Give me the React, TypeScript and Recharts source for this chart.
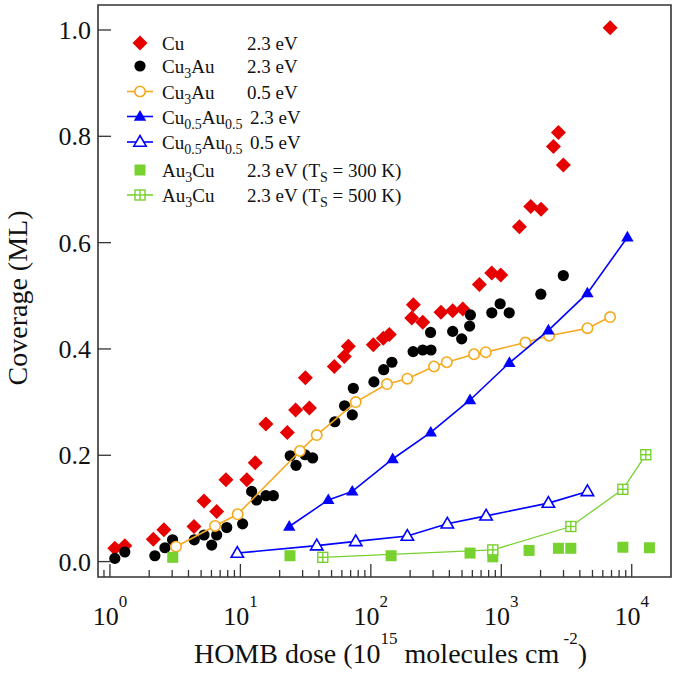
import { ScatterChart, Scatter, XAxis, YAxis, ReferenceArea } from "recharts";

const serif = "'Liberation Serif', 'Times New Roman', serif";
const frameColor = "#333";
const red = "#e60000";
const orange = "#f5a91c";
const blue = "#0000ff";
const green = "#77d12f";

// [dose (10^15 molecules cm^-2), coverage (ML)]
const cu23 = [
  [1.09, 0.025], [1.3, 0.03], [2.15, 0.042], [2.59, 0.06], [4.41, 0.066], [5.26, 0.114],
  [6.58, 0.094], [7.75, 0.154], [11.2, 0.154], [13.0, 0.186], [15.7, 0.259], [22.9, 0.243],
  [26.5, 0.285], [31.5, 0.346], [33.8, 0.289], [52.5, 0.367], [62.6, 0.386], [67.2, 0.405],
  [104.5, 0.408], [124.6, 0.42], [138.6, 0.427], [206, 0.458], [212, 0.483], [250, 0.45],
  [345, 0.469], [424, 0.472], [507, 0.475], [679, 0.521], [845, 0.543], [991, 0.539],
  [1377, 0.63], [1683, 0.668], [2019, 0.663], [2510, 0.781], [2742, 0.807], [2993, 0.746],
  [6826, 1.004],
];

const cu3au23 = [
  [1.09, 0.006], [1.3, 0.018], [2.21, 0.011], [2.64, 0.026], [3.02, 0.041], [4.43, 0.041],
  [5.26, 0.05], [6.03, 0.031], [6.58, 0.05], [7.86, 0.064], [10.4, 0.071], [12.2, 0.132],
  [13.3, 0.116], [15.7, 0.124], [17.9, 0.124], [24.1, 0.199], [26.7, 0.181], [31.3, 0.201],
  [35.8, 0.195], [53.0, 0.263], [62.9, 0.293], [72.1, 0.276], [73.4, 0.326], [105.6, 0.338],
  [125.5, 0.361], [145, 0.375], [211, 0.395], [250, 0.398], [289, 0.398], [287, 0.431],
  [424, 0.433], [497, 0.419], [572, 0.443], [580, 0.464], [846, 0.468], [980, 0.485],
  [1150, 0.468], [2010, 0.503], [2990, 0.538],
];

const cu3au05 = [
  [3.21, 0.028], [6.39, 0.067], [9.53, 0.089], [28.6, 0.208], [38.5, 0.238], [76.6, 0.3],
  [133, 0.334], [190.5, 0.344], [305, 0.367], [382, 0.375], [618, 0.39], [760, 0.394],
  [1532, 0.412], [2328, 0.425], [4575, 0.439], [6826, 0.46],
];

const cuau23 = [
  [23.7, 0.066], [47.2, 0.116], [72.1, 0.132], [147, 0.193], [288, 0.243], [576, 0.304],
  [1154, 0.374], [2297, 0.435], [4575, 0.505], [9265, 0.61],
];

const cuau05 = [
  [9.47, 0.016], [38.5, 0.03], [76.6, 0.038], [190.5, 0.048], [386, 0.071], [765, 0.086],
  [2297, 0.11], [4575, 0.132],
];

const au3cu300 = [
  [3.03, 0.008], [24.0, 0.011], [143, 0.011], [576, 0.016], [861, 0.009], [1633, 0.021],
  [2742, 0.025], [3413, 0.025], [8550, 0.027], [13670, 0.026],
];

const au3cu500 = [
  [42.8, 0.008], [861, 0.022], [3413, 0.066], [8550, 0.136], [12820, 0.201],
];

const xMajorTicks = [1, 10, 100, 1000, 10000];
const xMinorSteps = [2, 3, 4, 5, 6, 7, 8, 9];
const yTicks = [0, 0.2, 0.4, 0.6, 0.8, 1.0];

// legend rows: name parts and energy parts, odd entries are subscripts
const legendNames = [
  ["Cu"],
  ["Cu", "3", "Au"],
  ["Cu", "3", "Au"],
  ["Cu", "0.5", "Au", "0.5"],
  ["Cu", "0.5", "Au", "0.5"],
  ["Au", "3", "Cu"],
  ["Au", "3", "Cu"],
];
const legendEnergies = [
  ["2.3 eV"],
  ["2.3 eV"],
  ["0.5 eV"],
  ["2.3 eV"],
  ["0.5 eV"],
  ["2.3 eV (T", "S", " = 300 K)"],
  ["2.3 eV (T", "S", " = 500 K)"],
];

const toPoints = (arr: number[][]) => arr.map(([dose, cov]) => ({ dose, cov }));

const xTicks = [0.9];
xMajorTicks.forEach((m) => {
  xTicks.push(m);
  if (m < 10000) xMinorSteps.forEach((s) => xTicks.push(m * s));
});

const Diamond = ({ cx, cy }: any) => (
  <polygon
    points={`${cx},${cy - 7.5} ${cx + 7.5},${cy} ${cx},${cy + 7.5} ${cx - 7.5},${cy}`}
    fill={red}
  />
);
const Dot = ({ cx, cy }: any) => <circle cx={cx} cy={cy} r={5.6} fill="#000" />;
const OpenCircle = ({ cx, cy }: any) => (
  <circle cx={cx} cy={cy} r={5.2} fill="#fff" stroke={orange} strokeWidth={1.6} />
);
const triPoints = (cx: number, cy: number) =>
  `${cx},${cy - 6.5} ${cx + 6.2},${cy + 4.2} ${cx - 6.2},${cy + 4.2}`;
const Tri = ({ cx, cy }: any) => <polygon points={triPoints(cx, cy)} fill={blue} />;
const OpenTri = ({ cx, cy }: any) => (
  <polygon points={triPoints(cx, cy)} fill="#fff" stroke={blue} strokeWidth={1.6} />
);
const Square = ({ cx, cy }: any) => (
  <rect x={cx - 5.5} y={cy - 5.5} width={11} height={11} fill={green} />
);
const CrossSquare = ({ cx, cy }: any) => (
  <g stroke={green} strokeWidth={1.4} fill="#fff">
    <rect x={cx - 5} y={cy - 5} width={10} height={10} />
    <line x1={cx} x2={cx} y1={cy - 5} y2={cy + 5} />
    <line x1={cx - 5} x2={cx + 5} y1={cy} y2={cy} />
  </g>
);

const XTick = ({ x, y, payload }: any) => {
  const v = payload.value;
  const exp = Math.round(Math.log10(v));
  const major = Math.abs(v - Math.pow(10, exp)) < 1e-6 * v;
  return (
    <g>
      <line x1={x} x2={x} y1={y} y2={y - (major ? 13 : 7)} stroke={frameColor} strokeWidth={1.3} />
      {major && (
        <text x={x} y={y + 48} textAnchor="middle" fontFamily={serif} fontSize={26} fill="#111">
          10
          <tspan dy={-18} fontSize={17}>
            {exp}
          </tspan>
        </text>
      )}
    </g>
  );
};

const YTick = ({ x, y, payload }: any) => (
  <g>
    <line x1={x} x2={x + 13} y1={y} y2={y} stroke={frameColor} strokeWidth={1.3} />
    <text x={x - 7} y={y + 9} textAnchor="end" fontFamily={serif} fontSize={26} fill="#111">
      {payload.value.toFixed(1)}
    </text>
  </g>
);

const XTitle = ({ viewBox }: any) => (
  <text
    x={viewBox.x + viewBox.width / 2 + 6}
    y={viewBox.y + 86}
    textAnchor="middle"
    fontFamily={serif}
    fontSize={28}
    fill="#111"
  >
    HOMB dose (10
    <tspan dy={-19} fontSize={17}>15</tspan>
    <tspan dy={19}> molecules cm</tspan>
    <tspan dy={-19} fontSize={17}> -2</tspan>
    <tspan dy={19}>)</tspan>
  </text>
);

const YTitle = () => (
  <text
    x={27}
    y={298}
    transform="rotate(-90 27 298)"
    textAnchor="middle"
    fontFamily={serif}
    fontSize={28}
    fill="#111"
  >
    Coverage (ML)
  </text>
);

const renderParts = (parts: string[], size: number) =>
  parts.map((p, i) =>
    i % 2 === 1 ? (
      <tspan key={i} dy={5} fontSize={14}>
        {p}
      </tspan>
    ) : (
      <tspan key={i} dy={i === 0 ? 0 : -5} fontSize={size}>
        {p}
      </tspan>
    )
  );

const legendRowsY = [43, 66, 91.5, 116.5, 142, 170, 195];
const legendMarkers = [Diamond, Dot, OpenCircle, Tri, OpenTri, Square, CrossSquare];
const legendLines = [null, null, orange, blue, blue, null, green];

const LegendBox = () => (
  <svg
    width={675}
    height={684}
    style={{ position: "absolute", left: 0, top: 0, pointerEvents: "none" }}
  >
    {legendRowsY.map((cy, i) => {
      const Marker = legendMarkers[i];
      const lc = legendLines[i];
      return (
        <g key={i}>
          {lc && <line x1={127} x2={153} y1={cy} y2={cy} stroke={lc} strokeWidth={1.6} />}
          <Marker cx={140} cy={cy} />
          <text x={162} y={cy + 7} fontFamily={serif} fontSize={19} fill="#111">
            {renderParts(legendNames[i], 19)}
          </text>
          <text x={i === 3 || i === 4 ? 250 : 247} y={cy + 7} fontFamily={serif} fontSize={19} fill="#111">
            {renderParts(legendEnergies[i], 19)}
          </text>
        </g>
      );
    })}
  </svg>
);

export default function App() {
  return (
    <div style={{ position: "absolute", left: 0, top: 0, width: 675, height: 684, background: "#fff" }}>
      <ScatterChart width={675} height={684} margin={{ top: 5, right: 4, bottom: 0, left: 0 }}>
        <XAxis
          type="number"
          dataKey="dose"
          scale="log"
          domain={[0.81, 20000]}
          allowDataOverflow
          ticks={xTicks}
          interval={0}
          tickSize={0}
          tickMargin={0}
          axisLine={false}
          tickLine={false}
          height={107}
          tick={(p: any) => <XTick {...p} />}
          label={{ content: XTitle }}
        />
        <YAxis
          type="number"
          dataKey="cov"
          domain={[-0.029, 1.047]}
          allowDataOverflow
          ticks={yTicks}
          interval={0}
          tickSize={0}
          tickMargin={0}
          axisLine={false}
          tickLine={false}
          width={98}
          tick={(p: any) => <YTick {...p} />}
          label={{ content: YTitle }}
        />
        <Scatter data={toPoints(cu23)} shape={Diamond} isAnimationActive={false} />
        <Scatter data={toPoints(cu3au23)} shape={Dot} isAnimationActive={false} />
        <Scatter
          data={toPoints(cu3au05)}
          shape={OpenCircle}
          line={{ stroke: orange, strokeWidth: 1.6 }}
          isAnimationActive={false}
        />
        <Scatter
          data={toPoints(cuau23)}
          shape={Tri}
          line={{ stroke: blue, strokeWidth: 1.6 }}
          isAnimationActive={false}
        />
        <Scatter
          data={toPoints(cuau05)}
          shape={OpenTri}
          line={{ stroke: blue, strokeWidth: 1.6 }}
          isAnimationActive={false}
        />
        <Scatter data={toPoints(au3cu300)} shape={Square} isAnimationActive={false} />
        <Scatter
          data={toPoints(au3cu500)}
          shape={CrossSquare}
          line={{ stroke: green, strokeWidth: 1.3 }}
          isAnimationActive={false}
        />
        <ReferenceArea
          x1={0.81}
          x2={20000}
          y1={-0.029}
          y2={1.047}
          fill="none"
          stroke={frameColor}
          strokeWidth={1.6}
          ifOverflow="visible"
        />
      </ScatterChart>
      <LegendBox />
    </div>
  );
}
